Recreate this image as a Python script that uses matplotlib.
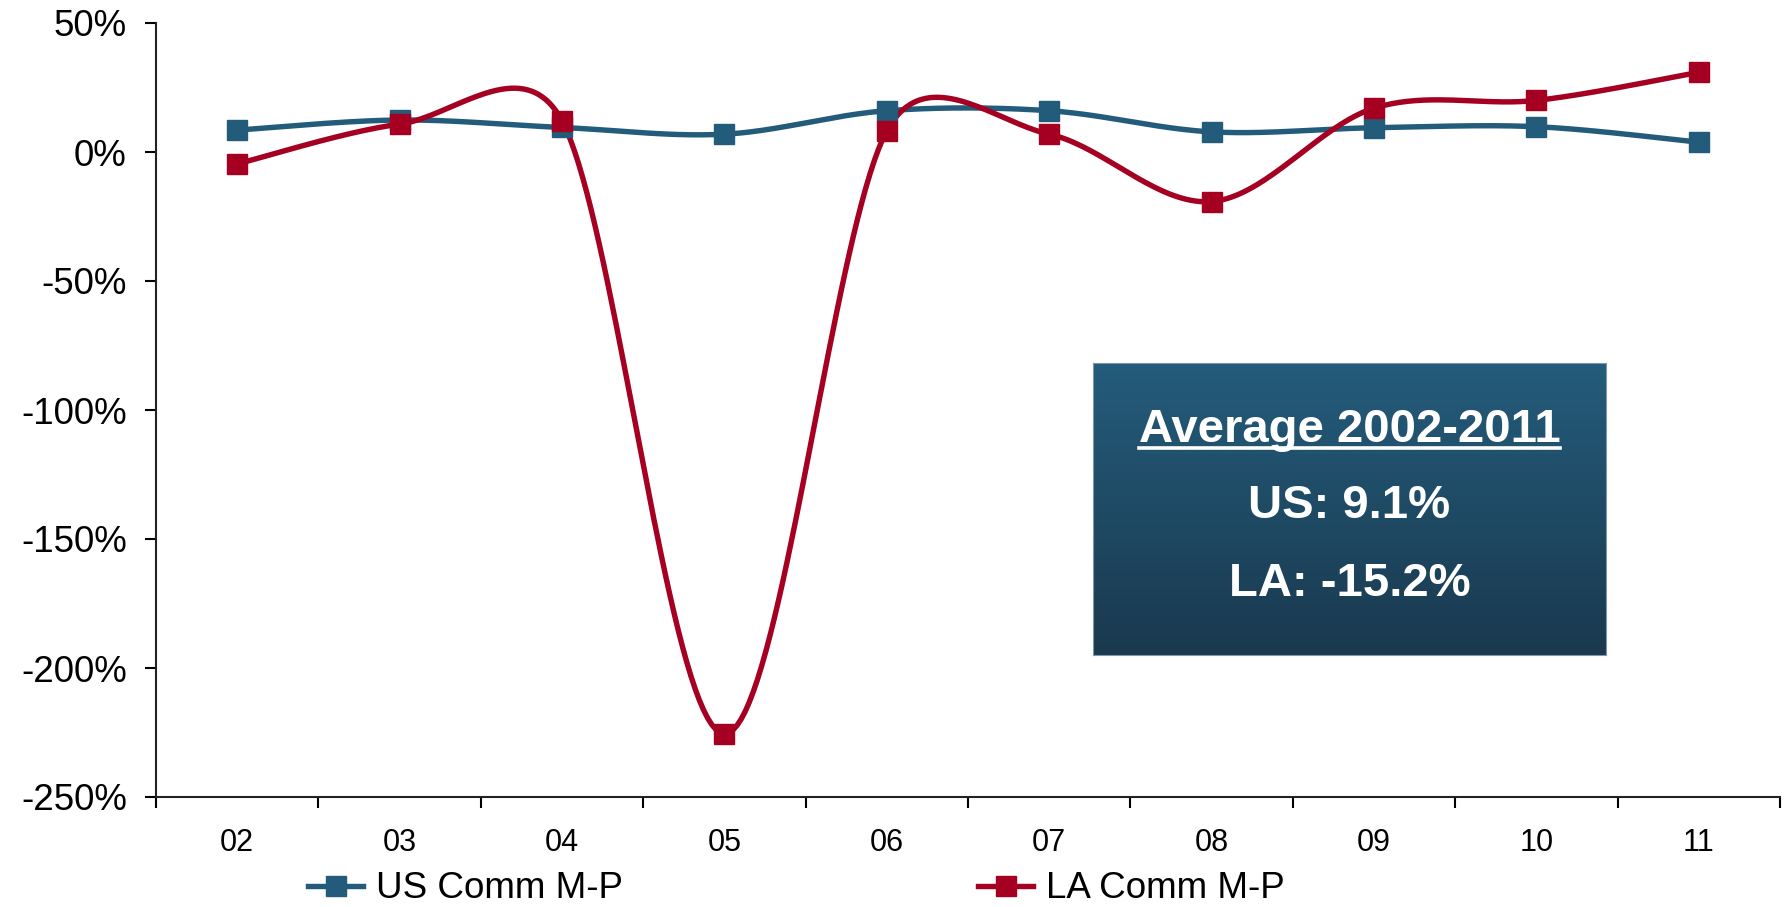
import matplotlib
matplotlib.use("Agg")
import matplotlib.pyplot as plt
import numpy as np
from matplotlib.lines import Line2D

plt.rcParams["font.family"] = ["Liberation Sans", "DejaVu Sans"]

years = ["02", "03", "04", "05", "06", "07", "08", "09", "10", "11"]
us_comm = [8.5, 12.4, 9.5, 6.9, 16.0, 16.0, 7.8, 9.4, 9.8, 3.8]
la_comm = [-4.6, 10.8, 12.1, -225.5, 8.2, 6.9, -19.2, 17.0, 20.0, 30.9]
series_names = ["US Comm M-P", "LA Comm M-P"]
box_title = "Average 2002-2011"
box_lines = ["US: 9.1%", "LA: -15.2%"]
y_ticks = [50, 0, -50, -100, -150, -200, -250]

BLUE = "#235b7b"
RED = "#a50021"
LW = 3.9
MS = 14.5


def ctrl_len(a, b, c, seg):
    # Excel-style control length: 1/6 of chord, capped at half the segment
    d_ac = np.hypot(*(c - a))
    if d_ac == 0:
        return np.zeros(2)
    f = min(d_ac / 6.0, seg / 2.0) / d_ac
    return (c - a) * f


def smooth_line(ax, xs, ys, n=40):
    pts = ax.transData.transform(np.column_stack([xs, ys]))
    out = []
    for i in range(len(pts) - 1):
        p0 = pts[i - 1] if i > 0 else pts[i]
        p1, p2 = pts[i], pts[i + 1]
        p3 = pts[i + 2] if i + 2 < len(pts) else pts[i + 1]
        seg = np.hypot(*(p2 - p1))
        c1 = p1 + ctrl_len(p0, p1, p2, seg)
        c2 = p2 - ctrl_len(p1, p2, p3, seg)
        t = np.linspace(0, 1, n)[:, None]
        b = ((1 - t) ** 3) * p1 + 3 * ((1 - t) ** 2) * t * c1 + 3 * (1 - t) * t ** 2 * c2 + t ** 3 * p2
        out.append(b if i == 0 else b[1:])
    out = np.vstack(out)
    return ax.transData.inverted().transform(out)


fig = plt.figure(figsize=(17.91, 9.07), dpi=100)
ax = fig.add_axes([156 / 1791, 1 - 797 / 907, 1624 / 1791, 774 / 907])

x = np.arange(len(years))
ax.set_xlim(-0.5, len(years) - 0.5)
ax.set_ylim(-250, 50)

for vals, col in [(us_comm, BLUE), (la_comm, RED)]:
    curve = smooth_line(ax, x, vals)
    ax.plot(curve[:, 0], curve[:, 1], color=col, lw=LW, solid_capstyle="round", zorder=3)
    ax.plot(x, vals, ls="none", marker="s", ms=MS, color=col, zorder=4)

ax.spines["top"].set_visible(False)
ax.spines["right"].set_visible(False)
for s in ["left", "bottom"]:
    ax.spines[s].set_linewidth(1.5)
    ax.spines[s].set_color("#222222")

ax.set_yticks(y_ticks)
ax.set_yticklabels([f"{v}%" for v in y_ticks])
ax.tick_params(axis="y", labelsize=26.5, length=8, width=1.5, pad=13, direction="out")

ax.set_xticks(x)
ax.set_xticklabels(years)
ax.set_xticks(np.arange(-0.5, len(years)), minor=True)
ax.tick_params(axis="x", which="major", length=0, labelsize=22, pad=22)
ax.tick_params(axis="x", which="minor", length=8, width=1.5, direction="out")

handles = [
    Line2D([], [], color=BLUE, lw=LW, marker="s", ms=MS),
    Line2D([], [], color=RED, lw=LW, marker="s", ms=MS),
]
fig.legend(handles, series_names, loc="center left", bbox_to_anchor=(308 / 1791, 1 - 889 / 907),
           ncol=2, frameon=False, fontsize=26.5, handlelength=1.5, handletextpad=0.35,
           columnspacing=9.65, borderpad=0, borderaxespad=0)

# gradient info box
bax = fig.add_axes([1093 / 1791, 1 - 655 / 907, 513 / 1791, 292 / 907])
top = np.array([0x24, 0x5c, 0x7b]) / 255
bot = np.array([0x1a, 0x39, 0x4f]) / 255
t = np.linspace(0, 1, 256)[:, None]
grad = (top * (1 - t) + bot * t)[:, None, :]
bax.imshow(grad, aspect="auto", extent=[0, 1, 0, 1])
bax.set_xticks([])
bax.set_yticks([])
for s in bax.spines.values():
    s.set_color("#7f97a8")
    s.set_linewidth(0.8)

title_txt = bax.text(0.5, 0.77, box_title, color="white", fontsize=34, fontweight="bold",
                     ha="center", va="center", transform=bax.transAxes)
bax.text(0.5, 0.51, box_lines[0], color="white", fontsize=34, fontweight="bold",
         ha="center", va="center", transform=bax.transAxes)
bax.text(0.5, 0.243, box_lines[1], color="white", fontsize=34, fontweight="bold",
         ha="center", va="center", transform=bax.transAxes)

fig.canvas.draw()
bb = title_txt.get_window_extent().transformed(fig.transFigure.inverted())
uy = bb.y0 + 4 / 907
fig.add_artist(Line2D([bb.x0, bb.x1], [uy, uy], color="white", lw=2.6, transform=fig.transFigure))

fig.savefig("out.png", dpi=100)
